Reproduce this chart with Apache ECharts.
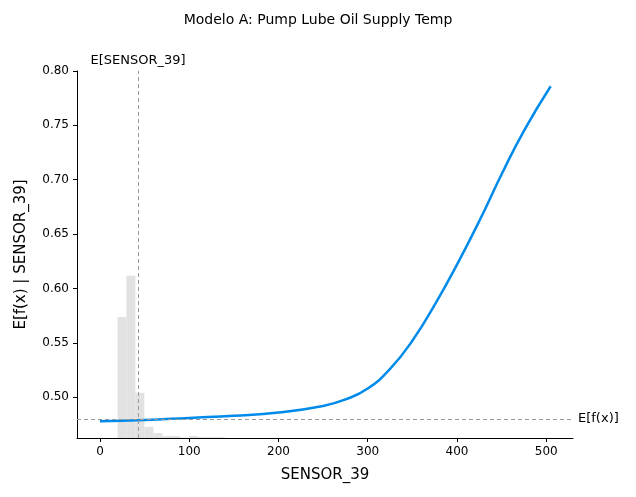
<!DOCTYPE html>
<html>
<head>
<meta charset="UTF-8">
<script src="https://cdn.jsdelivr.net/npm/echarts@6/dist/echarts.min.js"></script>
<style>body{margin:0}#main{width:636px;height:497px}</style>
</head>
<body>
<div id="main"></div>
<script>
// 部分依赖曲线
var curveX = [0, 50, 100, 150, 200, 250, 275, 300, 325, 350, 375, 400, 425, 450, 475, 505];
var curveY = [0.478, 0.479, 0.481, 0.483, 0.486, 0.492, 0.498, 0.508, 0.526, 0.552, 0.585, 0.622, 0.662, 0.705, 0.745, 0.786];
// 直方图 (起点, 终点, 高度)
var binStart = [19.6, 29.5, 39.6, 49.7, 59.8, 70, 80, 90, 100, 110, 120, 130];
var binEnd   = [29.5, 39.6, 49.7, 59.8, 70, 80, 90, 100, 110, 120, 130, 140];
var binTop   = [0.5737, 0.6117, 0.504, 0.4727, 0.4671, 0.4644, 0.4644, 0.4629, 0.4644, 0.4634, 0.4634, 0.4634];
var xTicks = [0, 100, 200, 300, 400, 500];
var yTicks = [0.50, 0.55, 0.60, 0.65, 0.70, 0.75, 0.80];
var expX = 42.6, expY = 0.477;
var yMin = 0.4625, yMax = 0.80;

var chart = echarts.init(document.getElementById('main'));
var font = 'DejaVu Sans';
chart.setOption({
  animation: false,
  title: {
    text: 'Modelo A: Pump Lube Oil Supply Temp', left: 'center', top: 8,
    textStyle: {fontFamily: font, fontSize: 14, fontWeight: 'normal', color: '#000'}
  },
  grid: {left: 77, right: 63, top: 71, bottom: 59},
  xAxis: {
    type: 'value', min: -25.8, max: 530,
    name: 'SENSOR_39', nameLocation: 'middle', nameGap: 30,
    nameTextStyle: {fontFamily: font, fontSize: 15, color: '#000'},
    axisLine: {onZero: false, lineStyle: {color: '#000'}},
    axisTick: {show: true, customValues: xTicks, length: 4, lineStyle: {color: '#000'}},
    axisLabel: {customValues: xTicks, fontFamily: font, fontSize: 12, color: '#000'},
    splitLine: {show: false}
  },
  yAxis: {
    type: 'value', min: yMin, max: yMax,
    name: 'E[f(x) | SENSOR_39]', nameLocation: 'middle', nameGap: 48,
    nameTextStyle: {fontFamily: font, fontSize: 15, color: '#000'},
    axisLine: {show: true, onZero: false, lineStyle: {color: '#000'}},
    axisTick: {show: true, customValues: yTicks, length: 4, lineStyle: {color: '#000'}},
    axisLabel: {customValues: yTicks, fontFamily: font, fontSize: 12, color: '#000',
      formatter: function (v) { return v.toFixed(2); }},
    splitLine: {show: false}
  },
  series: [
    {
      type: 'custom', z: 1,
      data: binStart.map(function (s, i) { return [s, binEnd[i], binTop[i]]; }),
      renderItem: function (params, api) {
        var p0 = api.coord([api.value(0), api.value(2)]);
        var p1 = api.coord([api.value(1), yMin]);
        return {type: 'rect', shape: {x: p0[0], y: p0[1], width: p1[0] - p0[0], height: p1[1] - p0[1]},
          style: {fill: '#e2e2e2'}};
      }
    },
    {
      type: 'line', z: 3, smooth: true, showSymbol: false,
      data: curveX.map(function (x, i) { return [x, curveY[i]]; }),
      lineStyle: {color: '#008bea', width: 2.5},
      markLine: {
        silent: true, symbol: 'none',
        lineStyle: {color: '#999', type: [4, 3], width: 1},
        data: [
          {xAxis: expX, label: {show: true, position: 'end', formatter: 'E[SENSOR_39]', fontFamily: font, fontSize: 13, color: '#000', distance: 4}},
          {yAxis: expY, label: {show: true, position: 'end', formatter: 'E[f(x)]', fontFamily: font, fontSize: 13, color: '#000', distance: 5}}
        ]
      }
    }
  ]
});
</script>
</body>
</html>
